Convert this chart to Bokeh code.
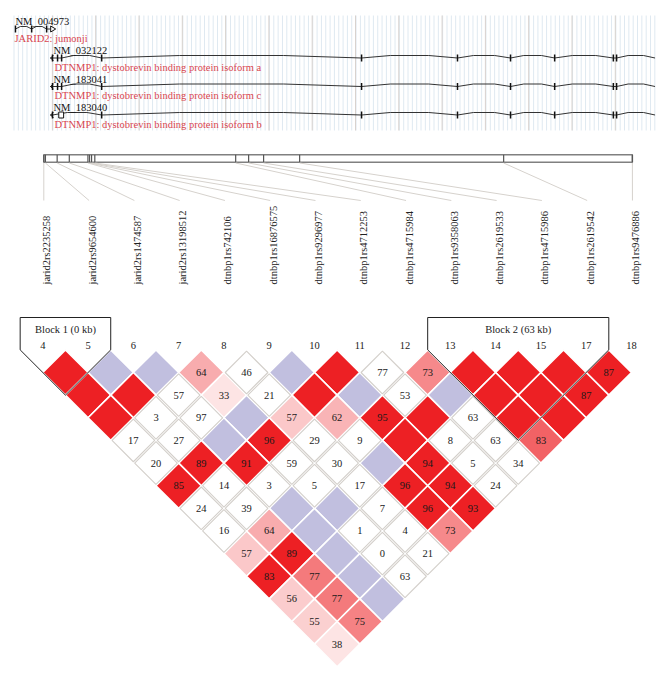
import numpy as np
from bokeh.plotting import figure
from bokeh.models import Range1d
from bokeh.core.properties import value
from bokeh.embed import file_html
from bokeh.resources import INLINE

# ---------------- data ----------------
marker_numbers = [4, 5, 6, 7, 8, 9, 10, 11, 12, 13, 14, 15, 17, 18]
marker_names = ["jarid2rs2235258", "jarid2rs9654600", "jarid2rs1474587", "jarid2rs13198512",
                "dtnbp1rs742106", "dtnbp1rs16876575", "dtnbp1rs9296977", "dtnbp1rs4712253",
                "dtnbp1rs4715984", "dtnbp1rs9358063", "dtnbp1rs2619533", "dtnbp1rs4715986",
                "dtnbp1rs2619542", "dtnbp1rs9476886"]
marker_kb = [0.0, 0.4, 3.3, 6.3, 10.9, 11.3, 11.8, 12.6, 47.4, 50.6, 54.3, 63.2, 113.6, 145.4]

# D' x100 per diagonal row (row d = pairs of markers d apart); 100 = D' of 1 (no number shown)
dprime_rows = [
    [100, 100, 100, 64, 46, 100, 100, 77, 73, 100, 100, 100, 87],
    [100, 100, 57, 33, 21, 100, 100, 53, 100, 100, 100, 87],
    [100, 3, 97, 100, 57, 62, 95, 100, 63, 100, 100],
    [17, 27, 100, 96, 29, 9, 100, 8, 63, 83],
    [20, 89, 91, 59, 30, 100, 94, 5, 34],
    [85, 14, 3, 5, 17, 96, 94, 24],
    [24, 39, 100, 100, 7, 96, 93],
    [16, 64, 100, 1, 4, 73],
    [57, 89, 100, 0, 21],
    [83, 77, 100, 63],
    [56, 77, 100],
    [55, 75],
    [38],
]
# LD class: R strong LD, P LOD>2 shaded by D', B D'=1 with low LOD, W no LD
ld_class_rows = [
    "RBBPWBRWPRRRR",
    "RRWPWRBWBRRR",
    "RWWBPPRRWRR",
    "WWBRWWRWWP",
    "WRRWWBRWW",
    "RWWWWRRW",
    "WWBBWRR",
    "WPBWWP",
    "PRBWW",
    "RPBW",
    "PPB",
    "PP",
    "P",
]
blocks = [(0, 1), (9, 12)]   # first/last marker index of each haplotype block

track_names = ["NM_004973", "NM_032122", "NM_183041", "NM_183040"]
track_desc = ["JARID2: jumonji",
              "DTNMP1: dystobrevin binding protein isoform a",
              "DTNMP1: dystobrevin binding protein isoform c",
              "DTNMP1: dystobrevin binding protein isoform b"]
track_span_kb = [(-7.0, 1.7), (1.65, 151.0), (1.65, 151.0), (1.65, 151.0)]
track_exons_kb = [
    [-7.0, -3.0, 0.7],
    [2.15, 3.4, 4.4, 14.3, 78.5, 102.2, 115.3, 126.2, 140.7, 141.5],
    [2.15, 3.4, 4.4, 14.3, 78.5, 102.2, 115.3, 126.2, 140.7, 141.5],
    [2.15, 14.3, 78.5, 102.2, 115.3, 126.2, 140.7, 141.5],
]
track_box_kb = [None, None, None, (3.7, 4.9)]

# ---------------- layout helpers ----------------
BAR_X0, PX_PER_KB = 43.3, 4.048
COL_X0, COL_STEP = 42.3, 45.28
H = COL_STEP / 2.0
ROW1_Y = 372.0
FONT = value("Liberation Serif")


def kb_x(kb):
    return BAR_X0 + PX_PER_KB * np.asarray(kb, dtype=float)


def col_x(i):
    return COL_X0 + COL_STEP * np.asarray(i, dtype=float)


def row_y(d):
    return ROW1_Y + (d - 1) * H


W, HGT = 658, 666
p = figure(width=W, height=HGT, x_range=Range1d(0, W), y_range=Range1d(HGT, 0),
           output_backend="svg", toolbar_location=None, min_border=0)
p.axis.visible = False
p.grid.visible = False
p.outline_line_color = None
p.background_fill_color = "white"

# ---------------- gene track ----------------
TOP, BOT = 15, 130
lx = np.arange(13.5, 656, 4.33)
p.segment(x0=lx, y0=TOP, x1=lx, y1=BOT, line_color="#dfe9f1", line_width=1)
gx = 355 - 43.3 * np.arange(-7, 9)
gx = gx[(gx > 12) & (gx < 657)]
p.segment(x0=gx, y0=TOP, x1=gx, y1=BOT, line_color="#d8d2ce", line_width=1)

label_y = [21, 50, 78.5, 107]
for t in range(len(track_names)):
    ly = label_y[t]
    gy = ly + 7.5
    dy = ly + 16.5
    s, e = track_span_kb[t]
    ex = list(kb_x(track_exons_kb[t]))
    sx, exx = float(kb_x(s)), float(kb_x(e))
    # introns as small hats between features
    pts = sorted(set([sx] + ex + [exx]))
    xs, ys = [], []
    for a, b in zip(pts[:-1], pts[1:]):
        if b - a > 6:
            xs += [a, a + 0.3 * (b - a), a + 0.7 * (b - a), b]
            ys += [gy, gy - 2.5, gy - 2.5, gy]
        else:
            xs += [a, b]
            ys += [gy, gy]
    p.line(xs, ys, line_color="#333333", line_width=1)
    p.segment(x0=ex, y0=gy - 3.5, x1=ex, y1=gy + 3.5, line_color="#111111", line_width=1.5)
    if track_box_kb[t] is not None:
        b0, b1 = kb_x(track_box_kb[t])
        p.quad(left=[b0], right=[b1], top=[gy - 3], bottom=[gy + 3],
               fill_color="white", line_color="#111111", line_width=1)
    if t == 0:
        tx = exx
        p.patch([tx, tx, tx + 5], [gy - 3, gy + 3, gy], fill_color="white",
                line_color="#111111", line_width=1)
    else:
        p.line([sx + 3, sx, sx + 3], [gy - 2.5, gy, gy + 2.5], line_color="#111111", line_width=1)
    p.text(x=[sx + (0 if t == 0 else 3)], y=[ly], text=[track_names[t]], text_font=FONT,
           text_font_size="10.5px", text_color="#111111", text_baseline="middle", text_align="left")
    p.text(x=[sx + (-1 if t == 0 else 4)], y=[dy], text=[track_desc[t]], text_font=FONT,
           text_font_size="10.5px", text_color="#d9454f", text_baseline="middle", text_align="left")

# ---------------- physical map bar ----------------
bx = kb_x(marker_kb)
p.quad(left=[bx[0]], right=[bx[-1]], top=[154.3], bottom=[161.7],
       fill_color="white", line_color="#808080", line_width=1.5)
p.segment(x0=bx, y0=154.3, x1=bx, y1=161.7, line_color="#555555", line_width=1.2)
cx_cols = col_x(np.arange(len(marker_numbers)))
p.segment(x0=bx, y0=162.5, x1=cx_cols + 1, y1=200, line_color="#d6d2cd", line_width=1)
p.text(x=cx_cols + 4, y=284, text=marker_names, angle=np.pi / 2, text_font=FONT,
       text_font_size="10.5px", text_color="#222222", text_align="left", text_baseline="middle")

# ---------------- LD triangle ----------------
p.text(x=cx_cols, y=345, text=[str(m) for m in marker_numbers], text_font=FONT,
       text_font_size="10.5px", text_color="#222222", text_align="center", text_baseline="middle")


def cell_color(cls, dp):
    if cls == "R":
        t = 0.0
    elif cls == "P":
        d = dp / 100.0
        blgr = 224 if d < 0.5 else 223 * 2 * (1 - d)
        t = blgr / 255.0
    elif cls == "B":
        return "#c1bfdf"
    else:
        return "white"
    r, g, b = 237 + 18 * t, 32 + 223 * t, 36 + 219 * t
    return "#%02x%02x%02x" % (int(round(r)), int(round(g)), int(round(b)))


col_xs, col_ys, col_fill = [], [], []
wht_xs, wht_ys = [], []
num_x, num_y, num_t = [], [], []
for d, (drow, crow) in enumerate(zip(dprime_rows, ld_class_rows), start=1):
    for a, (dp, cls) in enumerate(zip(drow, crow)):
        cx = float((col_x(a) + col_x(a + d)) / 2)
        cy = float(row_y(d))
        if cls == "W":
            h = H - 1.3
            wht_xs.append([cx - h, cx, cx + h, cx])
            wht_ys.append([cy, cy - h, cy, cy + h])
        else:
            col_xs.append([cx - H, cx, cx + H, cx])
            col_ys.append([cy, cy - H, cy, cy + H])
            col_fill.append(cell_color(cls, dp))
        if dp < 100:
            num_x.append(cx)
            num_y.append(cy)
            num_t.append(str(dp))

p.patches(xs=col_xs, ys=col_ys, fill_color=col_fill, line_color="white", line_width=1.6)
p.patches(xs=wht_xs, ys=wht_ys, fill_color="white", line_color="#d3cfca", line_width=1.1)
p.text(x=num_x, y=num_y, text=num_t, text_font=FONT, text_font_size="10.5px",
       text_color="#1a1a1a", text_align="center", text_baseline="middle")

# ---------------- blocks ----------------
for n, (a, b) in enumerate(blocks, start=1):
    left = float(col_x(a)) - H
    right = float(col_x(b)) + H
    side_y = ROW1_Y - H
    bot_x = float((col_x(a) + col_x(b)) / 2)
    bot_y = float(row_y(b - a)) + H
    p.line([left, left, right, right, bot_x, left], [side_y, 317, 317, side_y, bot_y, side_y],
           line_color="#222222", line_width=1)
    kb = round(marker_kb[b] - marker_kb[a])
    p.text(x=[(left + right) / 2], y=[329], text=["Block %d (%d kb)" % (n, kb)], text_font=FONT,
           text_font_size="10.5px", text_color="#222222", text_align="center", text_baseline="middle")

open("out.html", "w").write(file_html(p, INLINE))
